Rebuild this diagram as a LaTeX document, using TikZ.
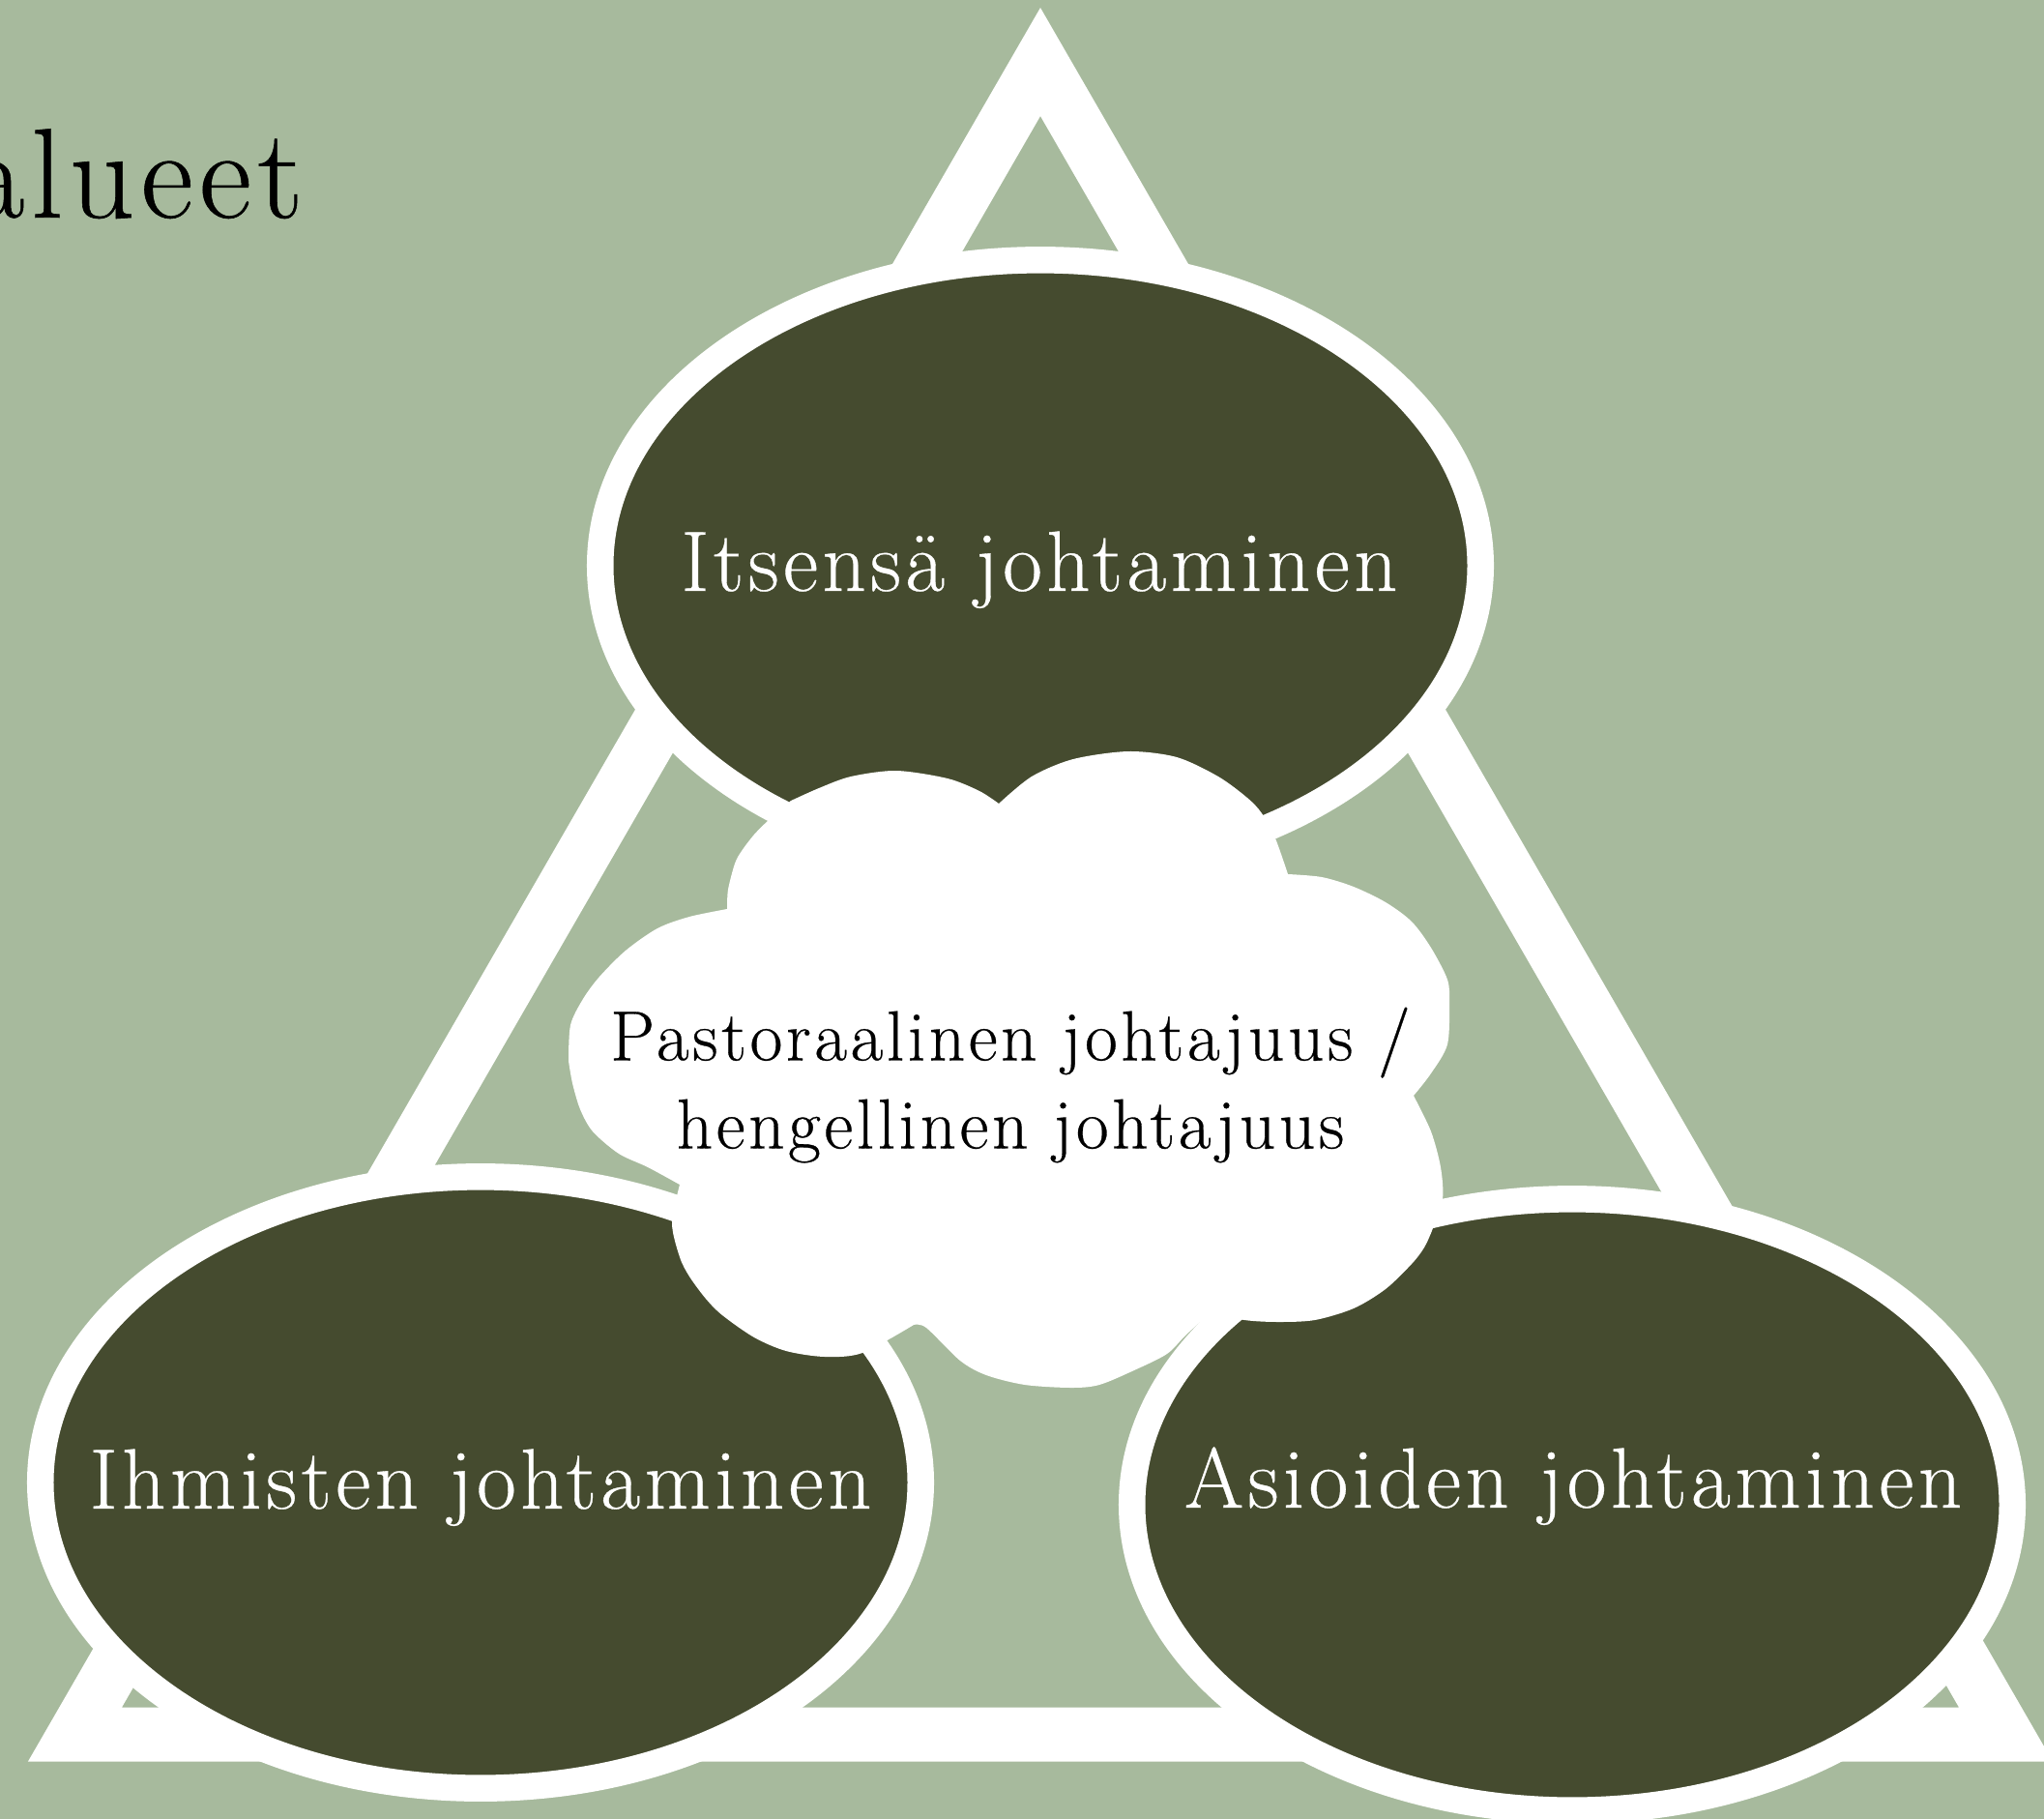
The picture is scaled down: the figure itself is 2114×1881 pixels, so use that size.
\documentclass[tikz,border=0pt]{standalone}
\usepackage{fontspec}
\setmainfont{Latin Modern Roman}[LetterSpace=5, FakeBold=0.4]
\usetikzlibrary{shapes.geometric}
\definecolor{sage}{HTML}{A7BA9D}
\definecolor{olive}{HTML}{454B2F}
\begin{document}
\begin{tikzpicture}[x=0.01cm,y=-0.01cm,
  area/.style={ellipse, minimum width=9.1cm, minimum height=6.32cm, inner sep=0pt,
    fill=olive, draw=white, line width=0.275cm},
  arealabel/.style={anchor=base, text=white, inner sep=0pt,
    font=\fontsize{25.2}{30}\selectfont},
  cloudtext/.style={align=center, inner sep=0pt, text=black,
    font=\fontsize{20.8}{25.9}\selectfont},
  titletext/.style={anchor=base east, inner sep=0pt, text=black,
    font=\fontsize{37.6}{45}\selectfont},
  frame/.style={draw=white, line width=0.56cm, line join=miter}]
\useasboundingbox (0,0) rectangle (2114,1881);
\clip (0,0) rectangle (2114,1881);
\fill[sage] (0,0) rectangle (2114,1881);
% title (cut off at the left edge)
\node[titletext] (title) at (314,225) {alueet};
% triangle
\coordinate (apex) at (1076,64);
\coordinate (bl) at (77.5,1793.5);
\coordinate (br) at (2074.5,1793.5);
\draw[frame] (apex) -- (bl) -- (br) -- cycle;
% ellipses
\node[area] (itse) at (1076,585) {};
\node[area] (ihmiset) at (497,1533) {};
\node[area] (asiat) at (1626,1556) {};
\node[arealabel] (itseL) at (1075,611) {Itsensä johtaminen};
\node[arealabel] (ihmisetL) at (497,1560) {Ihmisten johtaminen};
\node[arealabel] (asiatL) at (1627,1559) {Asioiden johtaminen};
% cloud
\fill[white]
  plot[smooth] coordinates {(818,828) (847,815) (880,803) (927,797) (980,805) (1013,818) (1033,831)}
  -- plot[smooth] coordinates {(1033,831) (1067,803) (1110,785) (1167,777) (1217,783) (1260,803) (1290,825) (1305,841) (1319,867) (1332,904)}
  -- plot[smooth] coordinates {(1332,904) (1367,907) (1400,917) (1433,933) (1460,953) (1480,980) (1497,1013) (1499,1037) (1497,1080) (1480,1110) (1462,1133)}
  -- plot[smooth] coordinates {(1462,1133) (1480,1170) (1490,1207) (1492,1240) (1482,1270) (1473,1290) (1460,1307) (1433,1333) (1400,1353) (1360,1365) (1322,1367) (1287,1365) (1253,1357)}
  -- plot[smooth] coordinates {(1253,1357) (1227,1380) (1207,1400) (1173,1417) (1137,1432) (1108,1435) (1060,1432) (1020,1422) (993,1407) (958,1373) (945,1370)}
  -- plot[smooth] coordinates {(945,1370) (892,1399) (853,1403) (813,1397) (780,1383) (747,1360) (730,1343) (713,1320) (703,1300) (695,1265) (703,1225)}
  -- plot[smooth] coordinates {(703,1225) (670,1207) (640,1193) (613,1170) (600,1147) (592,1120) (588,1097)}
  -- plot[smooth] coordinates {(588,1097) (590,1060) (603,1033) (620,1010) (647,983) (680,960) (713,948) (752,940)}
  -- plot[smooth] coordinates {(752,940) (753,920) (760,893) (767,880) (780,863) (795,848) (818,828)}
  -- cycle;
\node[cloudtext] (pastoral) at (1045,1122) {Pastoraalinen johtajuus /\\ hengellinen johtajuus};
\end{tikzpicture}
\end{document}
